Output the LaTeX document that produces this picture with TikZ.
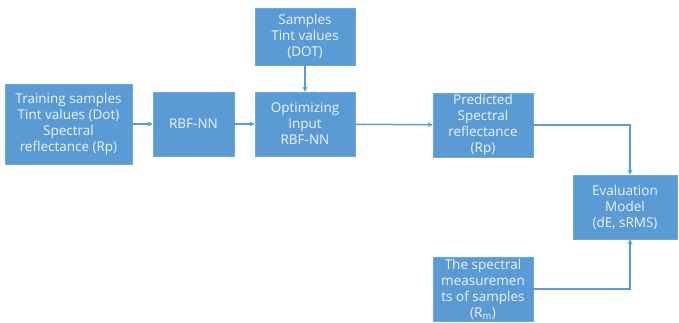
\documentclass[tikz,border=0pt]{standalone}
\usepackage{fontspec}
\setmainfont{Open Sans}
\usetikzlibrary{arrows.meta}
\definecolor{boxblue}{HTML}{5B9BD5}
\definecolor{boxedge}{HTML}{6FA8DC}
\definecolor{boxtext}{HTML}{EEF4FA}
\begin{document}
\begin{tikzpicture}[x=1pt,y=-1pt,
  block/.style={rectangle, fill=boxblue, draw=boxedge, line width=0.6pt,
    text=boxtext, align=center, inner sep=1pt,
    font=\fontsize{13.5}{16}\selectfont},
  flow/.style={draw=boxblue, line width=1.5pt,
    -{Stealth[length=5pt,width=5pt]}}]
  \useasboundingbox (0,0) rectangle (679,322);
  % process blocks
  \node[block, minimum width=127pt, minimum height=80pt] (train) at (68.5,124)
    {Training samples\\Tint values (Dot)\\Spectral\\reflectance (Rp)};
  \node[block, minimum width=81pt, minimum height=64pt] (rbf) at (193.5,124) {RBF-NN};
  \node[block, minimum width=100pt, minimum height=57pt] (samp) at (305,36.5)
    {Samples\\Tint values\\(DOT)};
  \node[block, minimum width=100pt, minimum height=64pt] (opt) at (305,124)
    {Optimizing\\Input\\RBF-NN};
  \node[block, minimum width=100pt, minimum height=64pt] (pred) at (483,125)
    {Predicted\\Spectral\\reflectance\\(Rp)};
  \node[block, minimum width=104pt, minimum height=64pt] (eval) at (625,207)
    {Evaluation\\Model\\(dE, sRMS)};
  \node[block, minimum width=100pt, minimum height=64pt] (meas) at (483,289)
    {The spectral\\measuremen\\ts of samples\\(R\textsubscript{m})};
  % connectors
  \draw[flow] (train) -- (rbf);
  \draw[flow] (rbf) -- (opt);
  \draw[flow] (samp) -- (opt);
  \draw[flow] (opt) -- (pred);
  \draw[flow] (pred.east) -| ([xshift=5pt]eval.north);
  \draw[flow] (meas.east) -| ([xshift=5pt]eval.south);
\end{tikzpicture}
\end{document}
